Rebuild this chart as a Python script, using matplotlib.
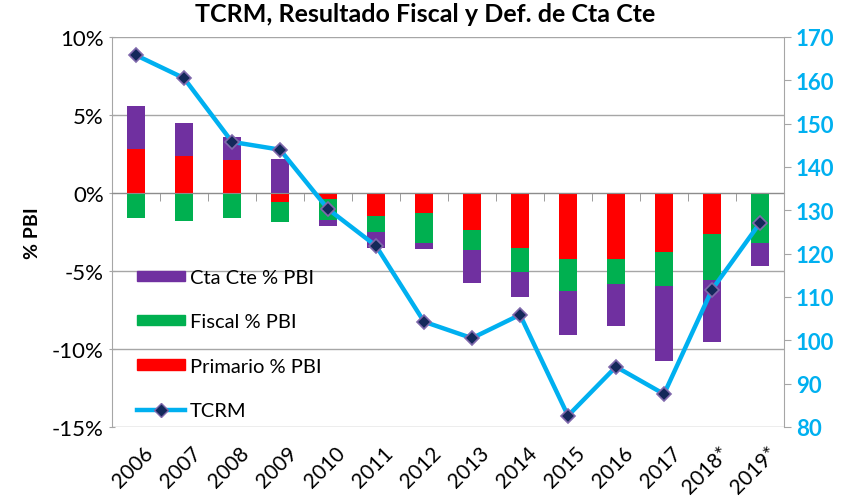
import numpy as np
import matplotlib
matplotlib.use("Agg")
import matplotlib.pyplot as plt
from matplotlib.patches import Patch
from matplotlib.lines import Line2D

plt.rcParams['font.family'] = ['Lato', 'DejaVu Sans']

years = ['2006', '2007', '2008', '2009', '2010', '2011', '2012', '2013',
         '2014', '2015', '2016', '2017', '2018*', '2019*']
primario = [2.8, 2.4, 2.1, -0.6, -0.4, -1.45, -1.25, -2.4, -3.5, -4.2, -4.2, -3.8, -2.6, 0.0]
fiscal = [-1.6, -1.8, -1.6, -1.25, -1.3, -1.05, -1.95, -1.25, -1.55, -2.1, -1.65, -2.15, -2.95, -3.2]
ctacte = [2.8, 2.1, 1.5, 2.2, -0.4, -1.05, -0.4, -2.15, -1.6, -2.8, -2.65, -4.8, -4.0, -1.5]
tcrm = [165.8, 160.5, 145.8, 144.0, 130.3, 121.8, 104.3, 100.5, 105.9, 82.6, 93.9, 87.6, 111.7, 127.1]

c_red = '#FF0000'
c_green = '#00B050'
c_purple = '#7030A0'
c_blue = '#00B0F0'
grey = '#A6A6A6'

fig = plt.figure(figsize=(8.5, 5.02), dpi=100)
ax = fig.add_axes([112/850, 74/502, (784-112)/850, (428-38)/502])

x = np.arange(len(years))
pos_base = np.zeros(len(years))
neg_base = np.zeros(len(years))
# excel style stacking: positives up, negatives down
for vals, col in [(primario, c_red), (fiscal, c_green), (ctacte, c_purple)]:
    v = np.array(vals)
    bottom = np.where(v >= 0, pos_base, neg_base)
    ax.bar(x, v, 0.38, bottom=bottom, color=col, zorder=3)
    pos_base = pos_base + np.where(v > 0, v, 0)
    neg_base = neg_base + np.where(v < 0, v, 0)

ax.set_xlim(-0.5, len(years) - 0.5)
ax.set_ylim(-15, 10)
ax.set_yticks([-15, -10, -5, 0, 5, 10])
ax.set_yticklabels(['-15%', '-10%', '-5%', '0%', '5%', '10%'], fontsize=16)
ax.grid(axis='y', color=grey, lw=1, zorder=0)
ax.set_ylabel('% PBI', fontsize=14, fontweight='bold', labelpad=8)

for s in ['top', 'right']:
    ax.spines[s].set_visible(False)
ax.spines['left'].set_color(grey)
ax.spines['bottom'].set_position(('data', 0))
ax.spines['bottom'].set_color('#8C8C8C')
ax.spines['bottom'].set_zorder(4)
ax.tick_params(axis='y', color=grey, length=5, direction='inout')

ax.set_xticks(x)
ax.set_xticklabels([])
ax.tick_params(axis='x', which='major', length=0)
ax.set_xticks(np.arange(len(years) + 1) - 0.5, minor=True)
ax.tick_params(axis='x', which='minor', length=6, color='#8C8C8C', direction='out')
for i, yr in enumerate(years):
    ax.text(i + 0.15, -0.04, yr, transform=ax.get_xaxis_transform(),
            rotation=45, ha='right', va='top', fontsize=15, rotation_mode='anchor')

ax2 = ax.twinx()
ax2.plot(x, tcrm, color=c_blue, lw=3.2, marker='D', markersize=7,
         markerfacecolor='#14285A', markeredgecolor='#7F68AC', markeredgewidth=1.2, zorder=5)
ax2.set_ylim(80, 170)
ax2.set_yticks(np.arange(80, 171, 10))
ax2.tick_params(axis='y', colors=c_blue, labelsize=16, length=5)
ax2.tick_params(axis='y', color=grey)
for lbl in ax2.get_yticklabels():
    lbl.set_fontweight('bold')
for s in ['top', 'left', 'bottom']:
    ax2.spines[s].set_visible(False)
ax2.spines['right'].set_color(grey)

fig.suptitle('TCRM, Resultado Fiscal y Def. de Cta Cte', fontsize=18, fontweight='bold', y=0.995)

handles = [Patch(color=c_purple), Patch(color=c_green), Patch(color=c_red),
           Line2D([], [], color=c_blue, lw=3.2, marker='D', markersize=7,
                  markerfacecolor='#14285A', markeredgecolor='#7F68AC')]
labels = ['Cta Cte % PBI', 'Fiscal % PBI', 'Primario % PBI', 'TCRM']
ax2.legend(handles, labels, loc='upper left', bbox_to_anchor=(0.025, 0.425), frameon=False,
           fontsize=14.5, handlelength=2.4, handleheight=0.4, labelspacing=1.35,
           handletextpad=0.25, borderaxespad=0)

fig.savefig('out.png', dpi=100)
